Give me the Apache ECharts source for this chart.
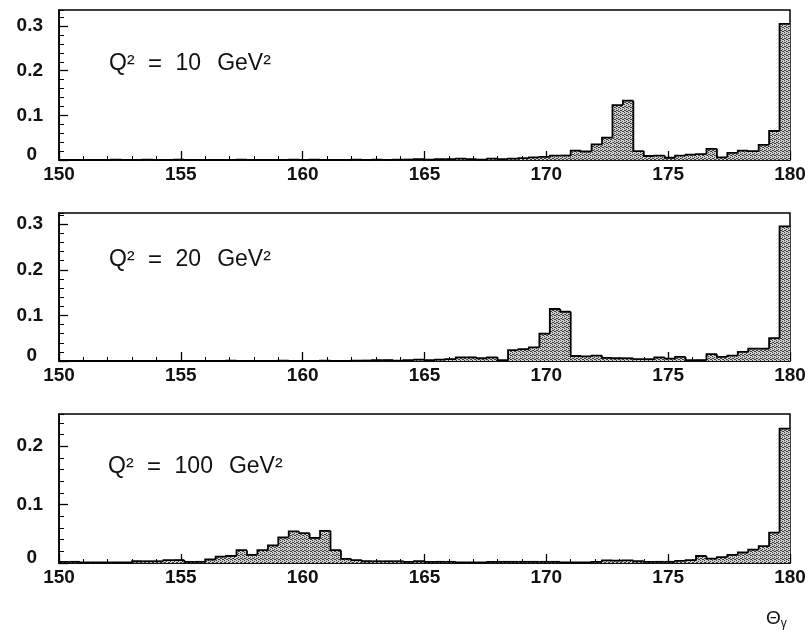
<!DOCTYPE html>
<html>
<head>
<meta charset="utf-8">
<script src="https://cdn.jsdelivr.net/npm/echarts@6/dist/echarts.min.js"></script>
<style>
  html, body { margin: 0; padding: 0; background: #fff; }
  #chart { width: 810px; height: 634px; }
</style>
</head>
<body>
<div id="chart"></div>
<script>
// Histogram binning of the photon angle (degrees)
const binMin = 150;
const binMax = 180;
const binCount = 70;

// Normalised bin contents, one array per Q^2 value
const q10 = [
  0, 0, 0, 0, 0, 0.001, 0, 0, 0.001, 0,
  0, 0.001, 0, 0, 0, 0, 0, 0.001, 0, 0,
  0, 0, 0.001, 0, 0.001, 0, 0, 0, 0.001, 0,
  0.001, 0, 0.001, 0.001, 0.002, 0.001, 0.002, 0.002, 0.003, 0.002,
  0.001, 0.003, 0.002, 0.003, 0.004, 0.006, 0.007, 0.010, 0.010, 0.021,
  0.019, 0.035, 0.050, 0.123, 0.133, 0.020, 0.009, 0.010, 0.005, 0.010,
  0.012, 0.013, 0.025, 0.006, 0.016, 0.021, 0.020, 0.034, 0.065, 0.305
];
const q20 = [
  0, 0, 0, 0, 0, 0, 0, 0, 0, 0,
  0, 0, 0, 0, 0, 0, 0.001, 0, 0, 0,
  0, 0.001, 0, 0, 0, 0.001, 0, 0, 0.001, 0.001,
  0.002, 0.002, 0.001, 0.002, 0.003, 0.002, 0.003, 0.004, 0.008, 0.008,
  0.006, 0.008, 0.002, 0.024, 0.026, 0.030, 0.060, 0.114, 0.108, 0.011,
  0.010, 0.012, 0.007, 0.006, 0.006, 0.004, 0.004, 0.008, 0.005, 0.009,
  0.002, 0.002, 0.015, 0.009, 0.012, 0.020, 0.027, 0.027, 0.050, 0.295
];
const q100 = [
  0.002, 0.002, 0.001, 0.001, 0.001, 0.001, 0.001, 0.003, 0.003, 0.003,
  0.005, 0.005, 0.002, 0.002, 0.006, 0.011, 0.012, 0.022, 0.014, 0.022,
  0.030, 0.044, 0.054, 0.051, 0.043, 0.055, 0.022, 0.007, 0.005, 0.003,
  0.003, 0.003, 0.003, 0.002, 0.003, 0.002, 0.002, 0.002, 0.001, 0.001,
  0.001, 0.002, 0.002, 0.002, 0.002, 0.002, 0.002, 0.002, 0.001, 0.001,
  0.001, 0.002, 0.0045, 0.004, 0.0045, 0.003, 0.002, 0.002, 0.002, 0.0035,
  0.005, 0.012, 0.0075, 0.010, 0.014, 0.018, 0.023, 0.029, 0.052, 0.230
];

const panelValues = [q10, q20, q100];
const panelQ2 = ['10', '20', '100'];
const yMaxes = [0.336, 0.3245, 0.255];
const xTitle = '\u0398';
const xTitleSub = '\u03B3';

// Panel frames (pixels)
const frames = [
  { top: 10, height: 150 },
  { top: 213, height: 148 },
  { top: 414, height: 149 }
];
const frameLeft = 59;
const frameWidth = 731;
const labelPos = [[109, 52], [109, 248], [108, 455]];

const FONT = 'Liberation Sans, Arial, Helvetica, sans-serif';
const INK = '#111';

// Stippled grey fill used for the histogram area
function stipple() {
  const c = document.createElement('canvas');
  c.width = 4; c.height = 4;
  const g = c.getContext('2d');
  g.fillStyle = '#cfcfcf';
  g.fillRect(0, 0, 4, 4);
  g.fillStyle = '#3c3c3c';
  [[0, 0], [2, 1], [1, 2], [3, 3], [2, 3], [0, 2]].forEach(([x, y]) => g.fillRect(x, y, 1, 1));
  return c;
}
const pattern = stipple();

// One record per bin: [low edge, high edge, content, content of previous bin]
const binWidth = (binMax - binMin) / binCount;
function binRecords(values) {
  return values.map((v, k) => [
    binMin + k * binWidth,
    binMin + (k + 1) * binWidth,
    v,
    k > 0 ? values[k - 1] : 0
  ]);
}

// Draws a filled bin and the histogram outline (rise from the previous bin + flat top)
function renderBin(params, api) {
  const lo = api.value(0), hi = api.value(1), v = api.value(2), prev = api.value(3);
  const pLo0 = api.coord([lo, 0]);
  const pLoV = api.coord([lo, v]);
  const pHiV = api.coord([hi, v]);
  const pLoPrev = api.coord([lo, prev]);
  const cs = params.coordSys;
  const clip = { x: cs.x, y: cs.y, width: cs.width, height: cs.height };
  const rect = echarts.graphic.clipRectByRect({
    x: pLoV[0], y: pLoV[1], width: pHiV[0] - pLoV[0], height: pLo0[1] - pLoV[1]
  }, clip);
  const children = [];
  if (rect && rect.height > 0) {
    children.push({
      type: 'rect', shape: rect,
      style: { fill: { image: pattern, repeat: 'repeat' } }
    });
  }
  children.push({
    type: 'polyline',
    shape: { points: [pLoPrev, pLoV, pHiV] },
    style: { stroke: '#000', lineWidth: 1.8, fill: null, lineJoin: 'miter' },
    z2: 5
  });
  return { type: 'group', children: children };
}

const grids = [], xAxes = [], yAxes = [], series = [], graphics = [];

frames.forEach((f, i) => {
  grids.push({
    left: frameLeft, width: frameWidth, top: f.top, height: f.height,
    show: true, borderColor: '#000', borderWidth: 1.5, backgroundColor: 'transparent'
  });
  xAxes.push({
    gridIndex: i, type: 'value', min: binMin, max: binMax, interval: 5,
    axisLine: { show: true, lineStyle: { color: '#000', width: 1.5 } },
    axisTick: { show: true, inside: true, length: 9, lineStyle: { color: '#000', width: 1.3 } },
    minorTick: { show: true, splitNumber: 5, length: 4, lineStyle: { color: '#000', width: 1 } },
    axisLabel: { margin: 5, fontSize: 19, fontWeight: 'bold', color: INK, fontFamily: FONT },
    splitLine: { show: false }, minorSplitLine: { show: false }
  });
  // labelled axis with major ticks every 0.1
  yAxes.push({
    gridIndex: i, type: 'value', min: 0, max: yMaxes[i], interval: 0.1, position: 'left',
    axisLine: { show: true, lineStyle: { color: '#000', width: 1.5 } },
    axisTick: { show: true, inside: true, length: 9, lineStyle: { color: '#000', width: 1.3 } },
    axisLabel: {
      margin: 16, fontSize: 19, fontWeight: 'bold', color: INK, fontFamily: FONT,
      showMaxLabel: false,
      formatter: v => (v === 0 ? '{z|0}' : v.toFixed(1)),
      rich: { z: { fontSize: 19, fontWeight: 'bold', color: INK, fontFamily: FONT, padding: [0, 6, 10, 0] } }
    },
    splitLine: { show: false }
  });
  // companion axis carrying the short ticks every 0.02
  yAxes.push({
    gridIndex: i, type: 'value', min: 0, max: yMaxes[i], interval: 0.02, position: 'left',
    axisLine: { show: false },
    axisTick: { show: true, inside: true, length: 5, lineStyle: { color: '#000', width: 1 } },
    axisLabel: { show: false },
    splitLine: { show: false }
  });
  series.push({
    type: 'custom', xAxisIndex: i, yAxisIndex: 2 * i,
    data: binRecords(panelValues[i]),
    encode: { x: [0, 1], y: 2 },
    renderItem: renderBin,
    silent: true
  });
  graphics.push({
    type: 'text', left: labelPos[i][0], top: labelPos[i][1],
    style: {
      text: '{q|Q\u00B2}{e|=}{n|' + panelQ2[i] + '}{g|GeV\u00B2}',
      rich: {
        q: { fontSize: 23, fontFamily: FONT, fill: INK },
        e: { fontSize: 24, fontFamily: FONT, fill: INK, width: 41, align: 'center' },
        n: { fontSize: 23, fontFamily: FONT, fill: INK, padding: [0, 16, 0, 0] },
        g: { fontSize: 23, fontFamily: FONT, fill: INK }
      }
    }
  });
});

graphics.push({
  type: 'text', left: 766, top: 609,
  style: {
    text: '{t|' + xTitle + '}{s|' + xTitleSub + '}',
    rich: {
      t: { fontSize: 19, fontFamily: FONT, fill: INK },
      s: { fontSize: 12, fontFamily: FONT, fill: INK, padding: [11, 0, 0, 0] }
    }
  }
});

const chart = echarts.init(document.getElementById('chart'), null, { renderer: 'canvas' });
chart.setOption({
  animation: false,
  backgroundColor: '#fff',
  grid: grids,
  xAxis: xAxes,
  yAxis: yAxes,
  series: series,
  graphic: graphics
});
</script>
</body>
</html>
